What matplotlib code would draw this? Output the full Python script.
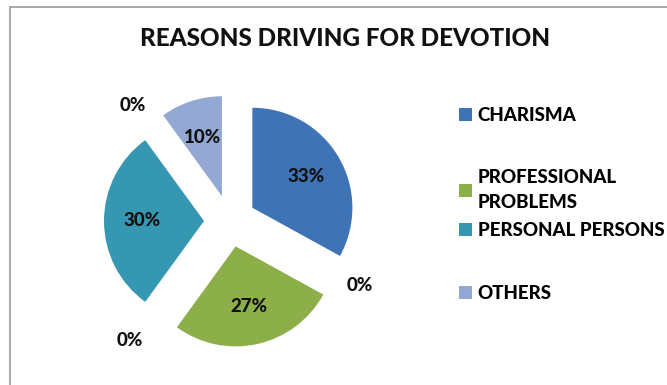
import matplotlib
matplotlib.use("Agg")
import matplotlib.pyplot as plt
from matplotlib.lines import Line2D

plt.rcParams['font.family'] = ['Lato', 'DejaVu Sans']

# data (zero entries sit between the real categories in the source sheet)
categories = ['CHARISMA', '', 'PROFESSIONAL\nPROBLEMS', '', 'PERSONAL PERSONS', '', 'OTHERS']
shares = [33, 0, 27, 0, 30, 0, 10]
colors = ['#3E74B5', '#ffffff', '#8DAF49', '#ffffff', '#3597B1', '#ffffff', '#93A9D3']
explode = [0.26, 0.0, 0.26, 0.15, 0.26, 0.1, 0.26]

fig = plt.figure(figsize=(6.67, 3.85), dpi=100)

# chart frame (top and left edges only visible)
fig.add_artist(Line2D([10/667, 1], [1 - 7/385, 1 - 7/385], color='#a8a8a8', lw=1.4))
fig.add_artist(Line2D([10/667, 10/667], [0, 1 - 7/385], color='#a8a8a8', lw=1.4))

fig.text(345/667, 1 - 38/385, 'REASONS DRIVING FOR DEVOTION', ha='center', va='center',
         fontsize=17.5, fontweight='black', color='#111111')

ax = fig.add_axes([80/667, 14/385, 300/667, 300/385])
zero_labels = ['0%' if v == 0 else '' for v in shares]
wedges, texts, autotexts = ax.pie(
    shares, explode=explode, colors=colors, labels=zero_labels,
    startangle=90, counterclock=False, radius=1.0,
    autopct=lambda p: f'{p:.0f}%' if p > 0.5 else '',
    pctdistance=0.62, labeldistance=1.33,
    wedgeprops=dict(edgecolor='none'),
    textprops=dict(fontsize=13.5, fontweight='black', color='#111111'))
ax.set_xlim(-1.5, 1.5)
ax.set_ylim(-1.5, 1.5)
ax.set_aspect('equal')
ax.axis('off')

# legend: one entry per slot, the way the spreadsheet spaced them
handles = [w for w, v in zip(wedges, shares) if v > 0]
names = [c for c, v in zip(categories, shares) if v > 0]
slot_top = [107, 169, 222, 285]
for h, name, top in zip(handles, names, slot_top):
    leg = fig.legend([h], [name], loc='upper left', bbox_to_anchor=(459/667, 1 - top/385),
                     frameon=False, handlelength=0.7, handleheight=0.7,
                     handletextpad=0.3, borderpad=0, borderaxespad=0,
                     prop=dict(weight='black', size=13.5))
    for t in leg.get_texts():
        t.set_linespacing(1.55)

fig.savefig('out.png', dpi=100)
